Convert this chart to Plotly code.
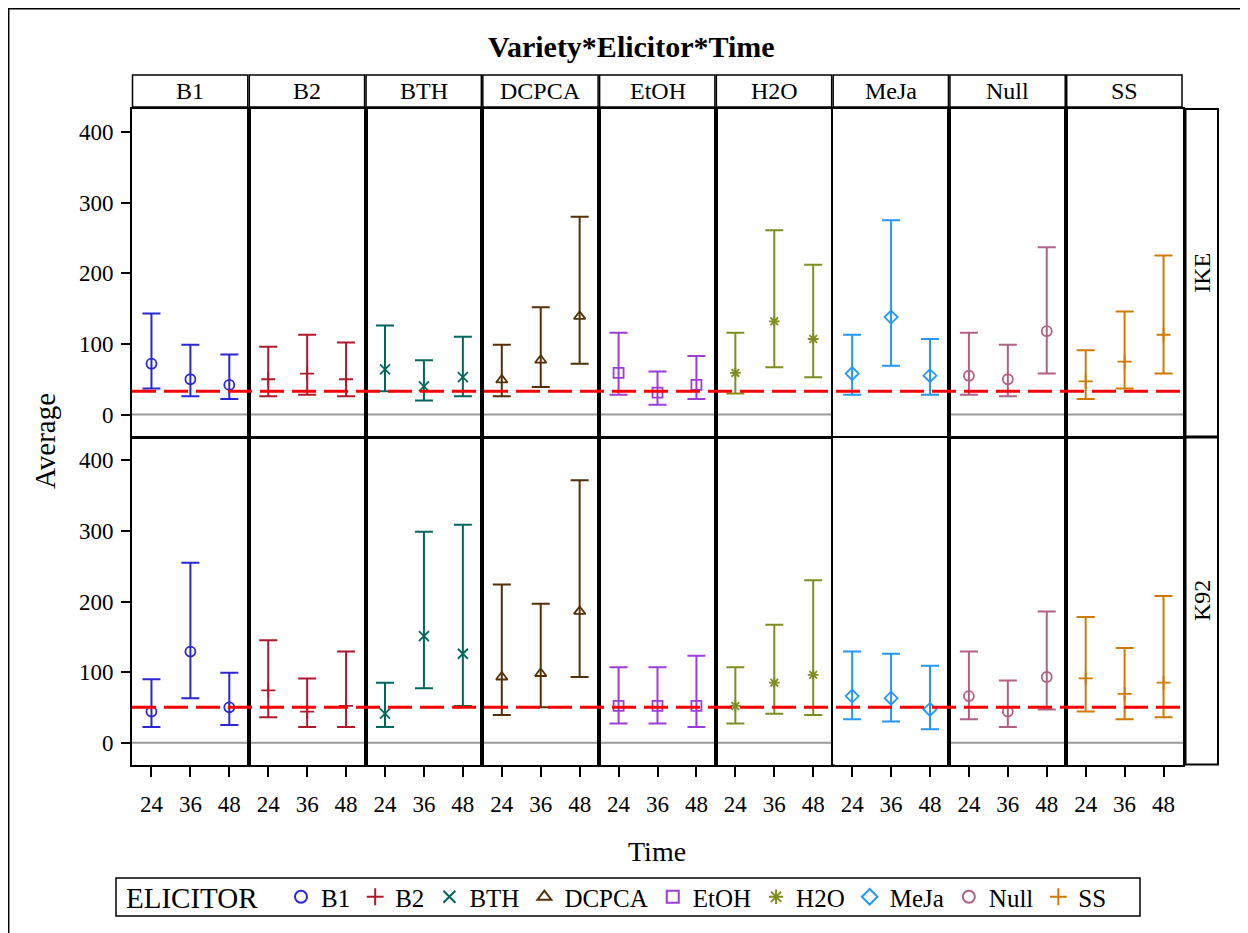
import plotly.graph_objects as go

OFF = 8  # default body margin of the html page
W, H = 1248 - OFF, 933 - OFF

elicitors = ["B1", "B2", "BTH", "DCPCA", "EtOH", "H2O", "MeJa", "Null", "SS"]
varieties = ["IKE", "K92"]
times = ["24", "36", "48"]

colors = ["#2A25D9", "#B2182B", "#01665E", "#543005", "#9D3CDB",
          "#7F8E1F", "#2597FA", "#B26084", "#D17800"]
symbols = ["circle-open", "cross-thin-open", "x-thin-open", "triangle-up-open",
           "square-open", "asterisk-open", "diamond-open", "circle-open", "cross-thin-open"]

# IKE (top row): mean, lower, upper per elicitor for times 24, 36, 48
ike_mean = {
    "B1": [72, 50, 42], "B2": [50, 58, 50], "BTH": [64, 40, 53],
    "DCPCA": [49, 77, 139], "EtOH": [59, 31, 42], "H2O": [59, 132, 107],
    "MeJa": [58, 138, 55], "Null": [55, 50, 118], "SS": [47, 75, 113],
}
ike_lower = {
    "B1": [37, 26, 22], "B2": [26, 28, 26], "BTH": [33, 20, 26],
    "DCPCA": [26, 39, 72], "EtOH": [28, 14, 22], "H2O": [30, 67, 53],
    "MeJa": [28, 69, 28], "Null": [28, 26, 58], "SS": [22, 37, 58],
}
ike_upper = {
    "B1": [143, 99, 85], "B2": [96, 113, 102], "BTH": [126, 77, 110],
    "DCPCA": [99, 152, 280], "EtOH": [116, 61, 83], "H2O": [116, 261, 212],
    "MeJa": [113, 275, 107], "Null": [116, 99, 237], "SS": [91, 146, 225],
}
# K92 (bottom row)
k92_mean = {
    "B1": [44, 129, 50], "B2": [74, 44, 52], "BTH": [41, 151, 126],
    "DCPCA": [93, 98, 186], "EtOH": [52, 52, 52], "H2O": [52, 85, 96],
    "MeJa": [66, 63, 47], "Null": [66, 44, 93], "SS": [91, 69, 85],
}
k92_lower = {
    "B1": [22, 63, 25], "B2": [36, 22, 22], "BTH": [22, 77, 52],
    "DCPCA": [39, 50, 93], "EtOH": [27, 27, 22], "H2O": [27, 41, 39],
    "MeJa": [33, 30, 19], "Null": [33, 22, 47], "SS": [44, 33, 36],
}
k92_upper = {
    "B1": [90, 255, 99], "B2": [145, 91, 129], "BTH": [85, 299, 309],
    "DCPCA": [224, 197, 372], "EtOH": [107, 107, 123], "H2O": [107, 167, 230],
    "MeJa": [129, 126, 109], "Null": [129, 88, 186], "SS": [178, 134, 208],
}
ref_line = {"IKE": 33, "K92": 50}
yticks = [0, 100, 200, 300, 400]

FONT = "Liberation Serif, Times New Roman, serif"

fig = go.Figure()

px0, px1 = 132, 1183
pw = (px1 - px0) / 9
rows_px = [(109, 436.5), (437.5, 764.5)]


def xp(p):
    return (p - OFF) / W


def yp(p):
    return 1 - (p - OFF) / H


layout = {}
row_data = [(ike_mean, ike_lower, ike_upper), (k92_mean, k92_lower, k92_upper)]
for r in range(2):
    for c, el in enumerate(elicitors):
        k = r * 9 + c + 1
        xa = "xaxis" if k == 1 else f"xaxis{k}"
        ya = "yaxis" if k == 1 else f"yaxis{k}"
        xref = "x" if k == 1 else f"x{k}"
        yref = "y" if k == 1 else f"y{k}"
        x0 = px0 + c * pw
        x1 = x0 + pw
        y0, y1 = rows_px[r]
        layout[xa] = dict(
            domain=[xp(x0), xp(x1)], anchor=yref, range=[-0.5, 2.5],
            tickvals=[0, 1, 2], ticktext=times,
            showticklabels=(r == 1), ticks="outside" if r == 1 else "",
            ticklen=11, tickwidth=2, tickcolor="black",
            ticklabelstandoff=7,
            showline=True, mirror=True, linecolor="black", linewidth=1.6,
            showgrid=False, zeroline=False, fixedrange=True,
            tickfont=dict(family=FONT, size=23, color="black"),
        )
        layout[ya] = dict(
            domain=[yp(y1), yp(y0)], anchor=xref, range=[-31, 432.5],
            tickvals=yticks, ticktext=[str(v) for v in yticks],
            showticklabels=(c == 0), ticks="outside" if c == 0 else "",
            ticklen=9, tickwidth=2, tickcolor="black", ticklabelstandoff=3,
            showline=True, mirror=True, linecolor="black", linewidth=1.6,
            showgrid=False, zeroline=False, fixedrange=True,
            tickfont=dict(family=FONT, size=23, color="black"),
        )
        mean, lo, up = row_data[r]
        m = mean[el]
        fig.add_trace(go.Scatter(
            x=[0, 1, 2], y=m, xaxis=xref, yaxis=yref, mode="markers",
            name=el, legendgroup=el, showlegend=(r == 0),
            marker=dict(symbol=symbols[c], size=10 if c != 5 else 9, color=colors[c],
                        line=dict(color=colors[c], width=1.8)),
            error_y=dict(type="data", symmetric=False,
                         array=[u - v for u, v in zip(up[el], m)],
                         arrayminus=[v - l for v, l in zip(m, lo[el])],
                         color=colors[c], thickness=2, width=9),
        ))

shapes = []
annotations = []
# zero lines and reference lines
for r, var in enumerate(varieties):
    yref = "y" if r == 0 else "y10"
    shapes.append(dict(type="line", xref="paper", yref=yref, x0=xp(px0), x1=xp(px1),
                       y0=0, y1=0, line=dict(color="#9a9a9a", width=2), layer="below"))
    shapes.append(dict(type="line", xref="paper", yref=yref, x0=xp(px0), x1=xp(px1),
                       y0=ref_line[var], y1=ref_line[var],
                       line=dict(color="#ff0000", width=3, dash="24px,8px"), layer="above"))
# column strips
for c, el in enumerate(elicitors):
    x0 = px0 + c * pw
    x1 = x0 + pw
    shapes.append(dict(type="rect", xref="paper", yref="paper",
                       x0=xp(x0 + 0.5), x1=xp(x1 - 1), y0=yp(107), y1=yp(75),
                       line=dict(color="black", width=1.5), fillcolor="white"))
    annotations.append(dict(text=el, xref="paper", yref="paper", x=xp((x0 + x1) / 2),
                            y=yp(91), showarrow=False, xanchor="center", yanchor="middle",
                            font=dict(family=FONT, size=24, color="black")))
# row strips
for r, var in enumerate(varieties):
    y0, y1 = rows_px[r]
    shapes.append(dict(type="rect", xref="paper", yref="paper",
                       x0=xp(1185.5), x1=xp(1218), y0=yp(y1), y1=yp(y0),
                       line=dict(color="black", width=2), fillcolor="white"))
    annotations.append(dict(text=var, xref="paper", yref="paper", x=xp(1202),
                            y=yp((y0 + y1) / 2), showarrow=False, textangle=-90,
                            xanchor="center", yanchor="middle",
                            font=dict(family=FONT, size=24, color="black")))
# outer border (page frame)
shapes.append(dict(type="rect", xref="paper", yref="paper", x0=xp(8.7), x1=xp(1270),
                   y0=yp(950), y1=yp(8.7), line=dict(color="black", width=1.5),
                   fillcolor="rgba(0,0,0,0)", layer="below"))
# legend frame
shapes.append(dict(type="rect", xref="paper", yref="paper", x0=xp(116), x1=xp(1140),
                   y0=yp(916), y1=yp(878), line=dict(color="black", width=1.5),
                   fillcolor="rgba(0,0,0,0)", layer="above"))

annotations.append(dict(text="ELICITOR", xref="paper", yref="paper", x=xp(124), y=yp(898),
                        showarrow=False, xanchor="left", yanchor="middle",
                        font=dict(family=FONT, size=29, color="black")))
annotations.append(dict(text="<b>Variety*Elicitor*Time</b>", xref="paper", yref="paper",
                        x=xp(631), y=yp(46), showarrow=False, xanchor="center", yanchor="middle",
                        font=dict(family=FONT, size=30, color="black")))
annotations.append(dict(text="Average", xref="paper", yref="paper", x=xp(45), y=yp(441),
                        showarrow=False, textangle=-90, xanchor="center", yanchor="middle",
                        font=dict(family=FONT, size=29, color="black")))
annotations.append(dict(text="Time", xref="paper", yref="paper", x=xp(657), y=yp(851),
                        showarrow=False, xanchor="center", yanchor="middle",
                        font=dict(family=FONT, size=28, color="black")))

fig.update_layout(
    **layout,
    width=W, height=H, autosize=False,
    margin=dict(l=0, r=0, t=0, b=0),
    paper_bgcolor="white", plot_bgcolor="white",
    shapes=shapes, annotations=annotations,
    legend=dict(
        orientation="h", x=xp(281), y=yp(897), xanchor="left", yanchor="middle",
        borderwidth=0, bgcolor="rgba(0,0,0,0)",
        font=dict(family=FONT, size=25, color="black"),
        itemsizing="constant", tracegroupgap=0,
    ),
)

fig.write_html("out.html")
